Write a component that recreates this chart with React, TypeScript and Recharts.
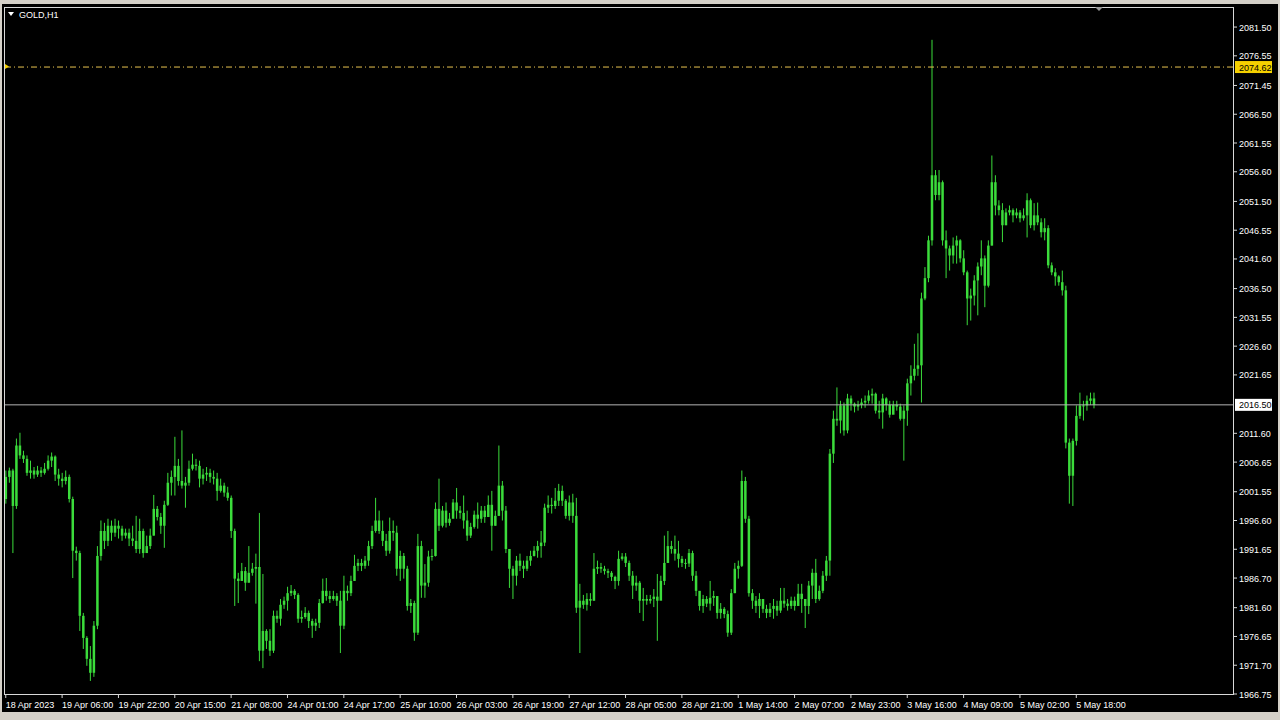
import { ComposedChart, Bar, XAxis, YAxis, ReferenceLine } from 'recharts';

// GOLD H1, 18 Apr 2023 .. 5 May 2023 (one value per hourly bar)
const firstOpen = 2000.3;

const closes = [
  2004.1, 2005.2, 1999.1, 2009.5, 2007.8, 2007.2, 2004.8, 2005.2, 2004.5, 2005.2,
  2004.8, 2005.5, 2006.9, 2007.6, 2004.5, 2003.8, 2003.4, 2004.1, 2000.3, 1991.4,
  1991.0, 1980.2, 1976.4, 1972.8, 1970.4, 1978.5, 1990.5, 1994.8, 1993.1, 1995.7,
  1994.5, 1995.7, 1995.2, 1994.0, 1994.5, 1993.5, 1993.1, 1991.7, 1994.8, 1991.0,
  1992.2, 1994.0, 1998.6, 1997.2, 1995.7, 1999.3, 2003.1, 2004.1, 2006.0, 2003.4,
  2002.6, 2003.1, 2005.5, 2006.2, 2006.0, 2003.8, 2004.5, 2004.8, 2004.1, 2003.8,
  2001.7, 2002.6, 2001.4, 2000.5, 1994.8, 1986.6, 1986.2, 1987.9, 1985.9, 1987.6,
  1988.3, 1988.6, 1974.2, 1977.6, 1975.9, 1974.2, 1980.2, 1979.7, 1982.1, 1982.8,
  1984.1, 1984.5, 1983.8, 1979.7, 1980.0, 1980.7, 1979.3, 1978.5, 1979.0, 1982.4,
  1984.5, 1983.6, 1983.1, 1983.6, 1982.8, 1978.5, 1984.5, 1984.1, 1986.2, 1988.8,
  1989.3, 1988.8, 1989.7, 1992.2, 1994.8, 1996.6, 1994.8, 1993.1, 1991.4, 1994.8,
  1994.5, 1988.3, 1990.5, 1988.3, 1981.9, 1982.4, 1977.3, 1992.2, 1985.4, 1985.9,
  1990.4, 1990.5, 1998.6, 1995.7, 1998.3, 1996.2, 1996.9, 1999.7, 1998.3, 1997.9,
  1996.6, 1994.0, 1995.5, 1997.6, 1996.9, 1998.3, 1997.2, 1999.3, 1995.7, 1997.4,
  2002.6, 1998.3, 1991.7, 1988.3, 1987.1, 1989.7, 1988.8, 1988.3, 1989.7, 1990.5,
  1991.4, 1992.2, 1992.8, 1998.8, 1999.3, 1999.1, 2000.0, 2001.7, 2000.0, 1997.4,
  1999.7, 1997.4, 1981.6, 1982.8, 1982.1, 1983.1, 1982.8, 1988.3, 1988.6, 1988.3,
  1987.9, 1987.6, 1986.9, 1986.2, 1990.0, 1990.4, 1989.3, 1987.1, 1985.4, 1985.9,
  1982.8, 1983.1, 1982.8, 1983.1, 1983.5, 1982.8, 1986.2, 1989.3, 1992.2, 1991.7,
  1990.9, 1990.0, 1989.3, 1989.2, 1991.0, 1987.1, 1984.5, 1981.9, 1983.1, 1982.3,
  1983.3, 1983.6, 1980.7, 1981.4, 1980.5, 1977.3, 1984.1, 1988.3, 1988.8, 2003.4,
  1996.9, 1984.1, 1982.8, 1981.9, 1983.1, 1981.4, 1980.7, 1981.4, 1981.9, 1981.1,
  1982.8, 1982.3, 1981.9, 1982.8, 1981.9, 1984.0, 1983.1, 1981.9, 1985.4, 1987.6,
  1983.1, 1984.5, 1987.1, 1989.7, 2008.1, 2014.1, 2013.8, 2016.4, 2012.1, 2017.6,
  2016.7, 2016.2, 2016.5, 2016.9, 2017.2, 2018.1, 2018.4, 2015.5, 2015.2, 2017.6,
  2016.5, 2014.8, 2016.5, 2016.2, 2014.1, 2015.5, 2020.2, 2021.5, 2022.7, 2023.3,
  2034.8, 2038.3, 2044.8, 2056.0, 2052.6, 2054.8, 2044.8, 2043.4, 2042.2, 2043.9,
  2044.8, 2041.7, 2039.3, 2034.8, 2035.3, 2037.9, 2040.3, 2041.7, 2037.0, 2043.9,
  2054.8, 2050.8, 2050.0, 2047.4, 2049.6, 2050.0, 2049.1, 2049.6, 2048.6, 2049.1,
  2051.7, 2047.4, 2049.1, 2047.9, 2046.2, 2046.9, 2040.5, 2039.3, 2038.6, 2037.6,
  2036.2, 2010.0, 2004.3, 2010.3, 2014.6, 2016.4, 2016.4, 2017.2, 2017.6, 2016.5,
];

const highs = [
  2005.2, 2005.7, 2005.5, 2010.7, 2011.7, 2008.6, 2007.8, 2006.9, 2005.8, 2006.0,
  2005.8, 2006.5, 2007.8, 2008.3, 2007.8, 2005.5, 2004.8, 2005.2, 2004.5, 2000.7,
  1992.1, 1991.4, 1980.7, 1976.7, 1975.0, 1979.3, 1992.2, 1996.6, 1996.2, 1996.9,
  1996.6, 1996.9, 1996.6, 1995.7, 1995.2, 1995.2, 1995.7, 1997.4, 1996.9, 1995.2,
  1994.0, 1995.2, 2001.0, 1999.1, 1997.9, 2000.0, 2004.8, 2005.2, 2011.0, 2007.2,
  2012.1, 2004.1, 2006.9, 2008.1, 2007.2, 2006.9, 2005.5, 2005.8, 2005.5, 2005.2,
  2004.8, 2003.8, 2003.1, 2002.4, 2000.9, 1995.2, 1987.6, 1989.3, 1988.6, 1992.2,
  1989.3, 1990.9, 1997.9, 1987.4, 1977.9, 1977.9, 1981.1, 1981.1, 1983.1, 1983.5,
  1985.2, 1985.5, 1984.8, 1984.1, 1981.1, 1981.7, 1981.1, 1979.7, 1979.7, 1983.1,
  1986.6, 1986.7, 1984.5, 1984.5, 1984.1, 1984.5, 1987.1, 1985.4, 1987.1, 1990.7,
  1990.0, 1990.0, 1990.5, 1993.1, 1995.7, 2000.5, 1998.3, 1996.6, 1994.3, 1997.1,
  1996.6, 1995.7, 1991.4, 1991.0, 1988.8, 1983.1, 1982.8, 1994.3, 1993.1, 1989.1,
  1991.4, 1991.7, 1999.7, 2003.8, 1999.1, 1999.7, 1997.9, 2000.3, 2002.2, 1999.1,
  2000.9, 1998.3, 1996.2, 1998.3, 1999.7, 1999.1, 1999.1, 2000.9, 2001.7, 1998.3,
  2009.5, 2003.4, 1999.1, 1991.4, 1988.8, 1990.5, 1990.9, 1989.7, 1990.5, 1991.4,
  1992.2, 1993.1, 1994.8, 1999.5, 2000.9, 2000.5, 2002.2, 2002.9, 2002.6, 2000.3,
  2000.9, 2001.2, 2000.5, 1985.7, 1983.8, 1984.1, 1984.1, 1991.0, 1989.7, 1989.3,
  1988.8, 1988.3, 1987.9, 1987.1, 1991.4, 1991.0, 1991.0, 1989.7, 1987.9, 1987.1,
  1986.2, 1985.0, 1983.8, 1983.8, 1984.8, 1987.4, 1987.1, 1994.0, 1994.8, 1993.1,
  1994.0, 1993.1, 1990.5, 1990.0, 1991.7, 1991.4, 1987.9, 1984.1, 1983.8, 1983.6,
  1986.2, 1984.5, 1983.1, 1982.4, 1981.7, 1981.1, 1984.8, 1989.3, 1989.7, 2005.2,
  2004.1, 1997.4, 1984.8, 1983.6, 1984.1, 1982.8, 1982.1, 1982.4, 1983.1, 1982.8,
  1985.0, 1985.0, 1983.1, 1983.5, 1983.5, 1985.7, 1985.7, 1982.8, 1986.2, 1988.3,
  1990.0, 1985.4, 1987.9, 1990.5, 2008.9, 2015.5, 2019.5, 2017.2, 2016.9, 2018.4,
  2018.1, 2016.9, 2017.2, 2017.6, 2018.1, 2019.0, 2019.3, 2018.6, 2017.2, 2018.4,
  2017.8, 2017.2, 2017.2, 2017.2, 2016.7, 2016.4, 2021.0, 2023.3, 2027.0, 2028.8,
  2035.8, 2040.2, 2045.6, 2079.3, 2056.9, 2056.9, 2055.1, 2046.5, 2043.9, 2045.3,
  2045.6, 2045.0, 2043.1, 2039.6, 2036.5, 2038.8, 2041.0, 2044.8, 2042.2, 2044.8,
  2059.4, 2056.0, 2051.7, 2051.2, 2050.3, 2050.8, 2050.3, 2050.3, 2050.0, 2050.3,
  2052.9, 2052.0, 2051.2, 2051.3, 2048.6, 2048.6, 2047.4, 2041.0, 2040.0, 2038.8,
  2039.6, 2037.0, 2010.7, 2010.7, 2016.4, 2018.6, 2017.2, 2018.1, 2018.6, 2018.6,
];

const lows = [
  1999.5, 2003.1, 1991.0, 1998.6, 2007.2, 2006.5, 2004.3, 2003.8, 2003.8, 2004.1,
  2004.1, 2004.5, 2005.2, 2005.8, 2003.4, 2002.6, 2002.3, 2002.8, 1999.7, 1986.7,
  1989.7, 1977.6, 1974.5, 1971.6, 1969.0, 1969.7, 1977.9, 1989.7, 1991.7, 1992.2,
  1993.1, 1993.8, 1993.5, 1993.1, 1993.5, 1992.2, 1992.2, 1991.0, 1990.9, 1990.2,
  1991.4, 1991.7, 1994.0, 1996.6, 1994.3, 1991.9, 1999.1, 2000.9, 2000.9, 2002.6,
  2002.1, 1998.8, 2002.6, 2005.2, 2005.2, 2002.3, 2002.8, 2003.4, 2003.1, 2002.8,
  2000.0, 2001.4, 2000.7, 2000.0, 1993.6, 1981.9, 1982.4, 1986.2, 1984.5, 1985.9,
  1987.1, 1982.3, 1972.4, 1971.2, 1974.5, 1973.3, 1973.8, 1979.0, 1978.5, 1981.4,
  1981.1, 1983.6, 1983.1, 1979.0, 1979.0, 1979.7, 1978.1, 1976.4, 1977.6, 1978.1,
  1982.3, 1982.8, 1982.4, 1982.8, 1981.9, 1973.8, 1977.9, 1982.8, 1983.6, 1986.2,
  1987.9, 1987.9, 1988.3, 1988.8, 1991.7, 1994.5, 1994.3, 1992.2, 1990.5, 1990.9,
  1993.1, 1987.1, 1986.2, 1986.6, 1981.1, 1980.7, 1975.9, 1976.9, 1983.3, 1983.3,
  1985.2, 1989.7, 1990.4, 1994.8, 1995.4, 1995.4, 1995.7, 1997.1, 1996.9, 1996.9,
  1995.2, 1993.1, 1993.6, 1995.2, 1995.2, 1996.2, 1996.2, 1997.4, 1991.4, 1995.7,
  1997.4, 1996.6, 1991.0, 1985.0, 1983.1, 1985.4, 1987.9, 1986.7, 1987.9, 1988.8,
  1990.4, 1990.2, 1990.2, 1992.2, 1997.9, 1997.8, 1998.6, 1999.1, 1999.1, 1996.9,
  1996.6, 1996.2, 1980.7, 1973.8, 1981.4, 1981.1, 1981.9, 1982.8, 1987.4, 1987.6,
  1987.3, 1986.7, 1986.2, 1984.8, 1985.4, 1989.7, 1988.6, 1986.2, 1983.1, 1984.5,
  1980.7, 1979.3, 1982.1, 1982.3, 1981.7, 1975.9, 1983.1, 1985.5, 1989.3, 1990.9,
  1989.7, 1988.5, 1988.6, 1988.3, 1988.6, 1986.2, 1983.6, 1981.1, 1980.7, 1981.7,
  1981.1, 1981.9, 1979.7, 1979.7, 1979.8, 1976.6, 1976.9, 1984.1, 1986.6, 1988.6,
  1996.2, 1983.5, 1981.4, 1980.7, 1979.8, 1980.7, 1979.8, 1980.0, 1979.7, 1980.2,
  1980.7, 1981.6, 1981.1, 1981.4, 1981.1, 1981.9, 1980.7, 1978.1, 1980.5, 1983.1,
  1982.4, 1982.8, 1984.1, 1986.2, 1987.1, 2006.5, 2012.9, 2011.6, 2011.2, 2011.6,
  2015.5, 2015.2, 2015.5, 2015.9, 2016.0, 2016.7, 2016.7, 2015.0, 2014.1, 2012.4,
  2015.5, 2014.3, 2015.5, 2015.5, 2013.8, 2006.9, 2012.9, 2018.1, 2020.7, 2021.5,
  2016.9, 2034.5, 2037.6, 2043.9, 2051.7, 2051.7, 2043.9, 2038.3, 2039.6, 2040.8,
  2040.8, 2041.0, 2038.8, 2030.2, 2031.0, 2033.6, 2031.9, 2038.8, 2033.3, 2036.7,
  2043.9, 2049.1, 2049.1, 2044.5, 2047.4, 2049.1, 2047.9, 2048.6, 2047.9, 2048.2,
  2045.3, 2046.9, 2046.5, 2047.4, 2045.3, 2044.8, 2040.0, 2038.8, 2037.0, 2037.0,
  2035.3, 2009.0, 1999.5, 1999.1, 2009.5, 2014.1, 2013.8, 2015.5, 2016.5, 2015.9,
];

// one label every 16 bars
const timeLabels = [
  '18 Apr 2023', '19 Apr 06:00', '19 Apr 22:00', '20 Apr 15:00', '21 Apr 08:00',
  '24 Apr 01:00', '24 Apr 17:00', '25 Apr 10:00', '26 Apr 03:00', '26 Apr 19:00',
  '27 Apr 12:00', '28 Apr 05:00', '28 Apr 21:00', '1 May 14:00', '2 May 07:00',
  '2 May 23:00', '3 May 16:00', '4 May 09:00', '5 May 02:00', '5 May 18:00',
];
const barsPerLabel = 16;
const slotCount = 349;

const priceTicks = [
  2081.5, 2076.55, 2071.45, 2066.5, 2061.55, 2056.6, 2051.5, 2046.55, 2041.6, 2036.5,
  2031.55, 2026.6, 2021.65, 2011.6, 2006.65, 2001.55, 1996.6, 1991.65, 1986.7, 1981.6,
  1976.65, 1971.7, 1966.75,
];
const askPrice = 2074.62;
const bidPrice = 2016.5;
const priceMin = 1966.75;
const priceMax = 2084.95;

const W = 1280;
const H = 720;
const PLOT_LEFT = 4;
const PLOT_TOP = 7;
const AXIS_W = 47;
const AXIS_H = 26;
const PLOT_RIGHT = W - AXIS_W;
const PLOT_BOTTOM = H - AXIS_H;

const GREEN = '#3bdc3b';
const TEXT = '#ffffff';
const FRAME = '#d8d8d8';
const FONT = '"Liberation Sans", Arial, sans-serif';

const data = Array.from({ length: slotCount }, (_, i) => {
  if (i >= closes.length) return { idx: i };
  return {
    idx: i,
    open: i === 0 ? firstOpen : closes[i - 1],
    close: closes[i],
    high: highs[i],
    low: lows[i],
    range: [lows[i], highs[i]],
  };
});

const labelTicks = timeLabels.map((_, k) => k * barsPerLabel);

function Candle(props: any) {
  const { x, y, width, height, payload } = props;
  if (!payload || payload.high == null) return null;
  const top = Math.min(y, y + height);
  const h = Math.abs(height);
  const span = payload.high - payload.low;
  const ppu = span > 0 ? h / span : 0;
  const cx = x + width / 2;
  const yO = top + (payload.high - payload.open) * ppu;
  const yC = top + (payload.high - payload.close) * ppu;
  const bodyTop = Math.min(yO, yC);
  const bodyH = Math.max(Math.abs(yC - yO), 1);
  return (
    <g>
      <line x1={cx} x2={cx} y1={top} y2={top + h} stroke={GREEN} strokeWidth={1} />
      <rect x={cx - 1.25} y={bodyTop} width={2.5} height={bodyH} fill={GREEN} />
    </g>
  );
}

function TimeTick(props: any) {
  const { x, payload } = props;
  const label = timeLabels[Math.round(payload.value / barsPerLabel)];
  return (
    <g>
      <line x1={x} x2={x} y1={PLOT_BOTTOM} y2={PLOT_BOTTOM + 4} stroke={FRAME} />
      <text x={x} y={PLOT_BOTTOM + 14} fill={TEXT} fontSize={9} fontFamily={FONT} textAnchor="start">
        {label}
      </text>
    </g>
  );
}

function PriceTick(props: any) {
  const { y, payload } = props;
  const v = payload.value;
  const tx = PLOT_RIGHT + 6;
  if (v === askPrice || v === bidPrice) {
    const bg = v === askPrice ? '#f5d000' : '#ffffff';
    return (
      <g>
        <rect x={PLOT_RIGHT + 2} y={y - 6} width={37} height={12} fill={bg} />
        <text x={tx} y={y + 3.5} fill="#000000" fontSize={9} fontFamily={FONT} textAnchor="start">
          {v.toFixed(2)}
        </text>
      </g>
    );
  }
  return (
    <g>
      <line x1={PLOT_RIGHT} x2={PLOT_RIGHT + 4} y1={y} y2={y} stroke={FRAME} />
      <text x={tx} y={y + 3.5} fill={TEXT} fontSize={9} fontFamily={FONT} textAnchor="start">
        {v.toFixed(2)}
      </text>
    </g>
  );
}

export default function App() {
  return (
    <div style={{ position: 'relative', width: W, height: H, background: '#d4d0c8', overflow: 'hidden' }}>
      <style>{'body{margin:0}'}</style>
      <div style={{ position: 'absolute', left: 2, top: 4, width: W - 4, height: H - 12, background: '#000' }} />
      <div style={{ position: 'absolute', left: 0, top: 0 }}>
        <ComposedChart
          width={W}
          height={H}
          data={data}
          margin={{ top: PLOT_TOP, right: 0, bottom: 0, left: PLOT_LEFT }}
        >
          <XAxis
            dataKey="idx"
            type="category"
            ticks={labelTicks}
            interval={0}
            height={AXIS_H}
            axisLine={false}
            tickLine={false}
            tick={<TimeTick />}
          />
          <YAxis
            orientation="right"
            type="number"
            domain={[priceMin, priceMax]}
            allowDataOverflow
            ticks={[...priceTicks, askPrice, bidPrice]}
            interval={0}
            width={AXIS_W}
            axisLine={false}
            tickLine={false}
            tick={<PriceTick />}
          />
          <ReferenceLine y={bidPrice} stroke="#b4b4b4" strokeWidth={1} />
          <ReferenceLine y={askPrice} stroke="#e8c350" strokeWidth={1} strokeDasharray="6 3 1 3" />
          <Bar dataKey="range" shape={Candle} isAnimationActive={false} />
        </ComposedChart>
      </div>
      <div
        style={{
          position: 'absolute',
          left: PLOT_LEFT,
          top: PLOT_TOP,
          width: PLOT_RIGHT - PLOT_LEFT - 1,
          height: PLOT_BOTTOM - PLOT_TOP - 1,
          border: `1px solid ${FRAME}`,
          pointerEvents: 'none',
        }}
      />
      <svg style={{ position: 'absolute', left: 0, top: 0 }} width={W} height={H}>
        <polygon points="8,12 14,12 11,16" fill="#ffffff" />
        <text x={19} y={18} fill={TEXT} fontSize={9} fontFamily={FONT}>GOLD,H1</text>
        <polygon points="1095,7 1103,7 1099,11" fill="#9a9a9a" />
        <polygon points="5,64 9,66.5 5,69" fill="#f5d000" />
      </svg>
    </div>
  );
}
